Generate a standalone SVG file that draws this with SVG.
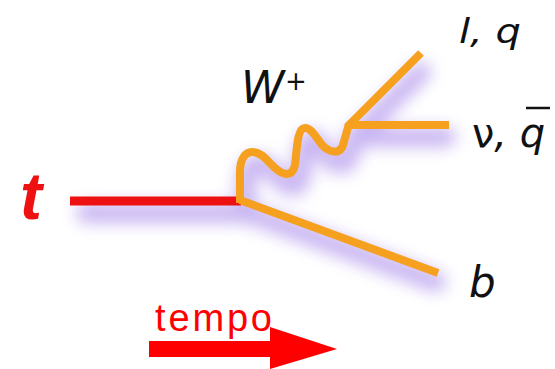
<svg xmlns="http://www.w3.org/2000/svg" width="555" height="369" viewBox="0 0 555 369">
<defs>
<filter id="blur" x="-20%" y="-20%" width="140%" height="140%">
<feGaussianBlur stdDeviation="8"/>
</filter>
<style>
.f{fill:none;stroke:#f5a01e;stroke-width:8;stroke-linecap:butt;stroke-linejoin:round}
.s{fill:none;stroke:#a585ea;stroke-width:20;stroke-linecap:round;stroke-linejoin:round}
.lbl{font-family:"DejaVu Sans","Liberation Sans",sans-serif;font-style:italic;fill:#111}
</style>
</defs>
<rect width="555" height="369" fill="#fff"/>
<g id="shadow" filter="url(#blur)" opacity="0.6" transform="translate(6,12)">
<line class="s" x1="80" y1="201" x2="241" y2="201"/>
<line class="s" x1="240" y1="200" x2="430" y2="270"/>
<path class="s" d="M240,203 L240,172 C240,158 246,152 252,152 C262,152 268,162 275,168 C283,175 292,178 295,165 C297,150 297,128 305,128 C313,128 318,142 324,147 C330,152 340,155 343,145 L349,124"/>
<line class="s" x1="347" y1="127" x2="415" y2="60"/>
<line class="s" x1="347" y1="125" x2="440" y2="125"/>
</g>
<g id="connectors">
<line x1="70" y1="201" x2="241" y2="201" stroke="#ee1111" stroke-width="9"/>
<line class="f" x1="240" y1="200" x2="438" y2="273"/>
<path class="f" d="M240,203 L240,172 C240,158 246,152 252,152 C262,152 268,162 275,168 C283,175 292,178 295,165 C297,150 297,128 305,128 C313,128 318,142 324,147 C330,152 340,155 343,145 L349,124"/>
<line class="f" x1="347" y1="127" x2="421" y2="53"/>
<line class="f" x1="347" y1="125" x2="449" y2="125"/>
</g>
<g id="t"><text x="20" y="219" font-family="Liberation Sans,Arial,sans-serif" font-weight="bold" font-style="italic" font-size="66" fill="#ee1111">t</text></g>
<g id="W"><text class="lbl" x="241" y="103" font-size="44">W</text><text class="lbl" x="285" y="90" font-size="26">+</text></g>
<g id="lq"><text class="lbl" x="459" y="43" font-size="33" textLength="62" lengthAdjust="spacingAndGlyphs">l, q</text></g>
<g id="nuq"><text class="lbl" x="472" y="147" font-size="40"><tspan font-style="normal">ν</tspan>, q</text>
<line x1="526" y1="108" x2="550" y2="108" stroke="#111" stroke-width="2.5"/></g>
<g id="b"><text class="lbl" x="469" y="297" font-size="42">b</text></g>
<g id="tempo">
<text x="155" y="331" font-family="Liberation Sans,Arial,sans-serif" font-size="38" fill="#ff0000" textLength="117">tempo</text>
<path d="M149,341 H270 V327 L337,349 L270,369 V357 H149 Z" fill="#ff0000"/>
</g>
</svg>
